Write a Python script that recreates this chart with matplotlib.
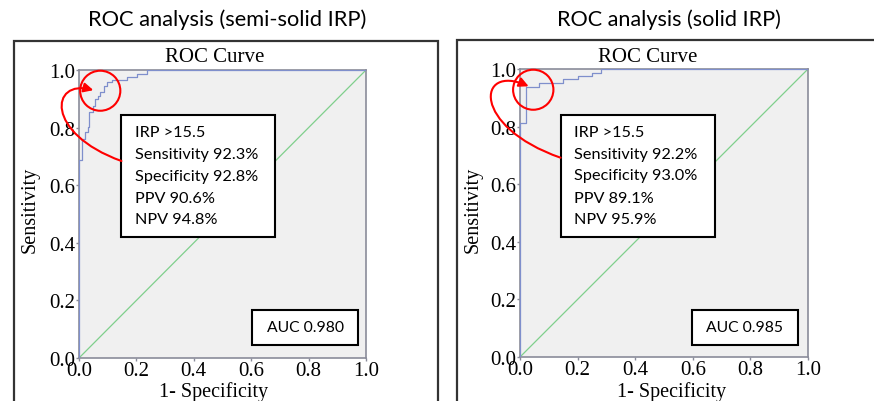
import matplotlib.pyplot as plt
from matplotlib.patches import Rectangle, Ellipse, FancyArrowPatch
from matplotlib.path import Path

# ---- data ----
fpr_semi = [0, 0, 0.009, 0.021, 0.033, 0.036, 0.050, 0.056, 0.067, 0.073, 0.087,
            0.099, 0.114, 0.166, 0.201, 0.236, 1.0]
tpr_semi = [0, 0.688, 0.760, 0.784, 0.803, 0.853, 0.874, 0.899, 0.911, 0.925, 0.943,
            0.957, 0.965, 0.975, 0.986, 1.0, 1.0]

fpr_solid = [0, 0, 0.021, 0.067, 0.151, 0.200, 0.249, 0.282, 1.0]
tpr_solid = [0, 0.812, 0.939, 0.951, 0.965, 0.975, 0.986, 1.0, 1.0]

titles = ["ROC analysis (semi-solid IRP)", "ROC analysis (solid IRP)"]
stats_semi = ["IRP >15.5", "Sensitivity 92.3%", "Specificity 92.8%", "PPV 90.6%", "NPV 94.8%"]
stats_solid = ["IRP >15.5", "Sensitivity 92.2%", "Specificity 93.0%", "PPV 89.1%", "NPV 95.9%"]
auc_labels = ["AUC 0.980", "AUC 0.985"]
ticks = [0.0, 0.2, 0.4, 0.6, 0.8, 1.0]

W, H = 874, 402
fig = plt.figure(figsize=(W / 100, H / 100), dpi=100)
renderer = fig.canvas.get_renderer()

SERIF = "Liberation Serif"
SANS = "Lato"
curve_col = "#7f8fcc"
diag_col = "#7fcf8c"
spine_col = "#8a8c9a"


def fx(px):
    return px / W


def fy(py):
    return 1 - py / H


def fit_width(txt, target_px):
    # scale the font so the text spans the width seen in the reference
    w = txt.get_window_extent(renderer).width
    txt.set_fontsize(txt.get_fontsize() * target_px / w)
    return txt.get_fontsize()


# outer frames around each panel
fig.patches.append(Rectangle((fx(14), fy(420)), fx(438) - fx(14), fy(41.5) - fy(420),
                             transform=fig.transFigure, fill=False, ec="#333333", lw=1.6))
fig.patches.append(Rectangle((fx(457), fy(420)), fx(900) - fx(457), fy(40.5) - fy(420),
                             transform=fig.transFigure, fill=False, ec="#333333", lw=1.6))

panels = [
    dict(rect=(79, 71, 366, 359), fpr=fpr_semi, tpr=tpr_semi, stats=stats_semi,
         box=(0.148, 0.421, 0.683, 0.844), text_x=0.195,
         line_y=[0.785, 0.708, 0.632, 0.556, 0.483],
         auc_box=(0.604, 0.045, 0.973, 0.168), circle=(0.074, 0.928),
         arrow=[(0.148, 0.684), (-0.12, 0.78), (-0.10, 0.97), (0.05, 0.93)],
         title_x=227, title_w=279, roc_x=215, ylab_x=30, xlab_x=214),
    dict(rect=(520, 70, 808, 358), fpr=fpr_solid, tpr=tpr_solid, stats=stats_solid,
         box=(0.141, 0.418, 0.677, 0.840), text_x=0.1875,
         line_y=[0.780, 0.705, 0.633, 0.552, 0.479],
         auc_box=(0.596, 0.042, 0.964, 0.164), circle=(0.046, 0.928),
         arrow=[(0.141, 0.692), (-0.17, 0.80), (-0.15, 1.02), (0.03, 0.94)],
         title_x=669, title_w=225, roc_x=648, ylab_x=473, xlab_x=672),
]

for i, p in enumerate(panels):
    x0, y0, x1, y1 = p["rect"]
    ax = fig.add_axes([fx(x0), fy(y1), fx(x1) - fx(x0), fy(y0) - fy(y1)])
    ax.set_facecolor("#f0f0f0")
    ax.plot(p["fpr"], p["tpr"], drawstyle="steps-post", color=curve_col, lw=0.9, zorder=3)
    ax.plot([0, 1], [0, 1], color=diag_col, lw=0.9, zorder=2)
    ax.set_xlim(0, 1)
    ax.set_ylim(0, 1)
    ax.set_xticks(ticks)
    ax.set_yticks(ticks)
    ax.set_xticklabels([f"{t:.1f}" for t in ticks], fontsize=15, family=SERIF)
    ax.set_yticklabels([f"{t:.1f}" for t in ticks], fontsize=15, family=SERIF)
    ax.tick_params(length=2.5, width=1, color=spine_col, pad=0)
    for s in ax.spines.values():
        s.set_color(spine_col)
        s.set_linewidth(1.2)

    # stats box
    bx0, by0, bx1, by1 = p["box"]
    ax.add_patch(Rectangle((bx0, by0), bx1 - bx0, by1 - by0, fc="white", ec="black",
                           lw=1.5, zorder=5))
    lines = [ax.text(p["text_x"], ly, line, fontsize=12, family=SANS, va="center",
                     ha="left", zorder=6)
             for line, ly in zip(p["stats"], p["line_y"])]
    fs = fit_width(lines[1], 123)
    for t in lines:
        t.set_fontsize(fs)

    # AUC box
    ax0, ay0, ax1, ay1 = p["auc_box"]
    ax.add_patch(Rectangle((ax0, ay0), ax1 - ax0, ay1 - ay0, fc="white", ec="black",
                           lw=1.5, zorder=5))
    auc = ax.text((ax0 + ax1) / 2, (ay0 + ay1) / 2, auc_labels[i], fontsize=12,
                  family=SANS, ha="center", va="center", zorder=6)
    fit_width(auc, 77)

    # red circle + curved arrow
    ax.add_patch(Ellipse(p["circle"], 0.14, 0.139, fill=False, ec="red", lw=1.5,
                         clip_on=False, zorder=7))
    path = Path(p["arrow"], [Path.MOVETO, Path.CURVE4, Path.CURVE4, Path.CURVE4])
    arr = FancyArrowPatch(path=path, arrowstyle="-|>", mutation_scale=14, color="red",
                          lw=1.5, clip_on=False, zorder=7)
    ax.add_patch(arr)

    title = fig.text(fx(p["title_x"]), fy(20), titles[i], fontsize=16, family=SANS,
                     ha="center", va="center")
    fit_width(title, p["title_w"])
    fig.text(fx(p["roc_x"]), fy(58), "ROC Curve", fontsize=15, family=SERIF,
             ha="center", va="center")
    fig.text(fx(p["ylab_x"]), fy(210), "Sensitivity", fontsize=14.5, family=SERIF,
             rotation=90, ha="center", va="center")
    fig.text(fx(p["xlab_x"]), fy(392), "1- Specificity", fontsize=14.5, family=SERIF,
             ha="center", va="center")

plt.savefig("out.png", dpi=100)
